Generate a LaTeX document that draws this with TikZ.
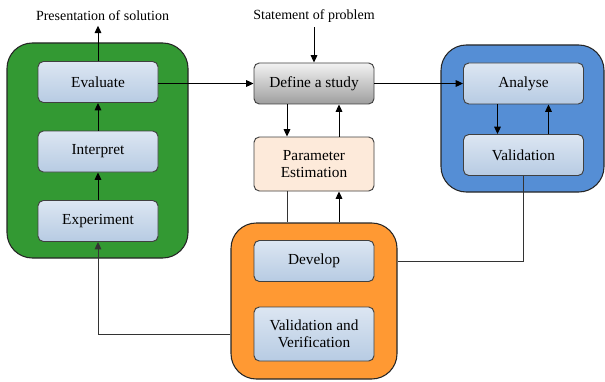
\documentclass[tikz,border=0pt]{standalone}
\usepackage{fontspec}
\setmainfont{Liberation Serif}
\usepackage{tikz}
\usetikzlibrary{positioning, arrows.meta}
\definecolor{grp}{HTML}{339933}
\definecolor{org}{HTML}{FF9933}
\definecolor{blu}{HTML}{558ED5}
\definecolor{boxtop}{HTML}{DCE6F2}
\definecolor{boxbot}{HTML}{B7CBE3}
\definecolor{peach}{HTML}{FDEADA}

\begin{document}
\begin{tikzpicture}[x=0.75pt, y=-0.75pt,
    group/.style={draw=black!85, line width=0.8pt, rounded corners=19pt,
      minimum width=#1},
    stage/.style={draw=black!75, line width=0.7pt, rounded corners=4pt,
      top color=boxtop, bottom color=boxbot, minimum width=90pt,
      minimum height=30.75pt, align=center, font=\fontsize{11.5}{13}\selectfont},
    label/.style={font=\fontsize{10.5}{12}\selectfont},
    arr/.style={-{Triangle[length=5.5pt, width=5pt]}, line width=0.75pt},
    link/.style={line width=0.75pt, black!80}]
  \useasboundingbox (0,0) rectangle (605,381);

  % containers
  \node[group=135.75pt, fill=grp, minimum height=161.25pt] (green) at (97.5,150.5) {};
  \node[group=124.5pt, fill=org, minimum height=117pt] (orange) at (314,301) {};
  \node[group=122.25pt, fill=blu, minimum height=110.25pt] (blue) at (522.5,118.5) {};

  % left column
  \foreach[count=\i from 1] \nm/\yy/\txt in
      {eval/82/Evaluate, interp/151.5/Interpret, exper/221/Experiment} {
    \node[stage] (\nm) at (98,\yy) {\txt};
  }
  \draw[arr] (exper) -- (interp);
  \draw[arr] (interp) -- (eval);

  % middle
  \node[stage, top color=black!5, bottom color=black!38] (define) at (314,83.5) {Define a study};
  \node[stage, fill=peach, top color=peach, bottom color=peach, minimum height=40.5pt] (param) at (314,164) {Parameter\\Estimation};
  \node[stage] (dev) at (314,261) {Develop};
  \node[stage, minimum height=40.5pt] (vv) at (314,334) {Validation and\\Verification};

  % right
  \node[stage] (analyse) at (523.5,83.5) {Analyse};
  \node[stage] (valid) at (523.5,155) {Validation};

  % labels
  \node[label] (pres) at (102.5,16) {Presentation of solution};
  \node[label] (stmt) at (314,16) {Statement of problem};

  % connectors
  \draw[arr] (eval.north) -- (eval.north |- pres.south);
  \draw[arr] (stmt) -- (define);
  \draw[arr] (eval.east |- define) -- (define.west);
  \draw[arr] (define) -- (analyse);
  \draw[arr] ([xshift=-20.25pt]define.south) -- ([xshift=-20.25pt]param.north);
  \draw[arr] ([xshift=18.75pt]param.north) -- ([xshift=18.75pt]define.south);
  \draw[link] ([xshift=-20.25pt]param.south) -- ([xshift=-20.25pt]param.south |- orange.north);
  \draw[arr] ([xshift=18.75pt]param.south |- orange.north) -- ([xshift=18.75pt]param.south);
  \draw[arr] ([xshift=-19.5pt]analyse.south) -- ([xshift=-19.5pt]valid.north);
  \draw[arr] ([xshift=18.75pt]valid.north) -- ([xshift=18.75pt]analyse.south);
  \draw[link] (valid.south) |- (orange.east |- dev);
  \draw[link, arr] (orange.west |- vv) -| (exper.south);
\end{tikzpicture}
\end{document}
